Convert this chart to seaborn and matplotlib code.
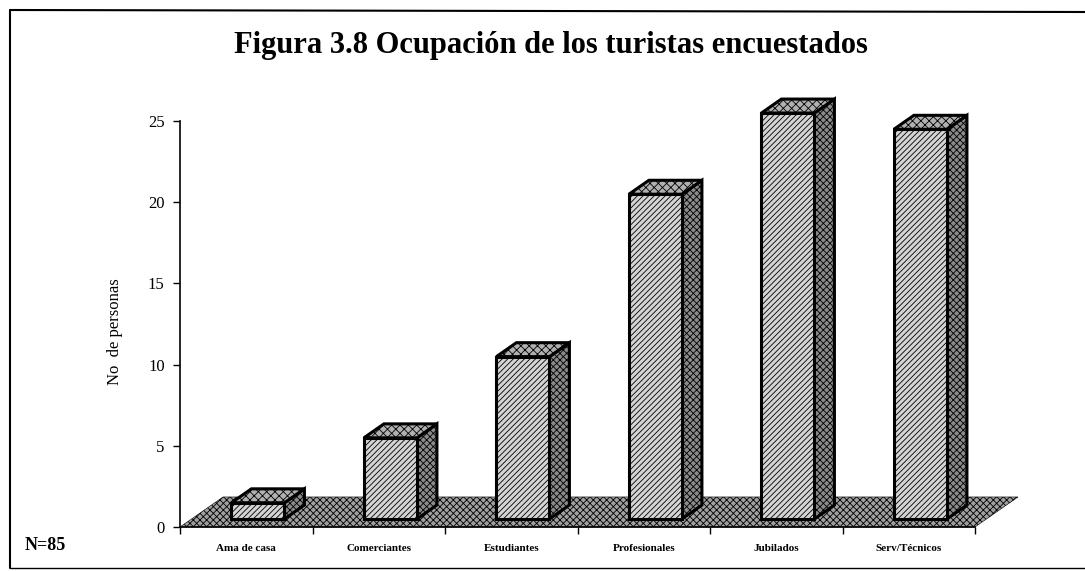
#!/usr/bin/python3

import seaborn as sns
import matplotlib.pyplot as plt
from matplotlib.patches import Polygon
from matplotlib.lines import Line2D

categories = ['Ama de casa', 'Comerciantes', 'Estudiantes',
              'Profesionales', 'Jubilados', 'Serv/Técnicos']
values = [1, 5, 10, 20, 25, 24]
y_ticks = [0, 5, 10, 15, 20, 25]

# 3D look, in data units (x: category band, y: persons)
FLOOR_DX, FLOOR_DY = 0.325, 1.85
FRONT_DX, FRONT_DY = 0.088, 0.49
DEPTH_DX, DEPTH_DY = 0.151, 0.86


def main():
    sns.set_style('white')
    plt.rcParams['font.family'] = ['Liberation Serif', 'DejaVu Serif']
    plt.rcParams['text.color'] = 'black'
    plt.rcParams['axes.labelcolor'] = 'black'
    plt.rcParams['xtick.color'] = 'black'
    plt.rcParams['ytick.color'] = 'black'
    plt.rcParams['hatch.linewidth'] = 0.6

    fig = plt.figure(figsize=(10.85, 5.71), dpi=100)
    ax = fig.add_axes([180 / 1085, 44 / 571, 795 / 1085, 406 / 571])

    sns.barplot(x=categories, y=values, width=0.4, color='#d4d4d4',
                edgecolor='black', linewidth=2.2, hatch='//////', ax=ax,
                zorder=4)

    n = len(categories)
    # floor
    floor = Polygon([(-0.5, 0), (n - 0.5, 0),
                     (n - 0.5 + FLOOR_DX, FLOOR_DY), (-0.5 + FLOOR_DX, FLOOR_DY)],
                    closed=True, facecolor='#a0a0a0', edgecolor='black',
                    hatch='xxxxx', lw=0.4, zorder=1, clip_on=False)
    ax.add_patch(floor)

    for p in list(ax.patches):
        if p is floor:
            continue
        p.set_x(p.get_x() + FRONT_DX)
        p.set_y(FRONT_DY)
        p.set_clip_on(False)
        x0, x1 = p.get_x(), p.get_x() + p.get_width()
        y0, y1 = p.get_y(), p.get_y() + p.get_height()
        side = Polygon([(x1, y0), (x1 + DEPTH_DX, y0 + DEPTH_DY),
                        (x1 + DEPTH_DX, y1 + DEPTH_DY), (x1, y1)],
                       closed=True, facecolor='#8a8a8a', edgecolor='black',
                       hatch='xxxxx', lw=2.2, zorder=3, clip_on=False)
        top = Polygon([(x0, y1), (x1, y1), (x1 + DEPTH_DX, y1 + DEPTH_DY),
                       (x0 + DEPTH_DX, y1 + DEPTH_DY)],
                      closed=True, facecolor='#b0b0b0', edgecolor='black',
                      hatch='xxxx', lw=2.2, zorder=3, clip_on=False)
        ax.add_patch(side)
        ax.add_patch(top)

    ax.set_xlim(-0.5, n - 0.5)
    ax.set_ylim(0, 25)
    ax.set_yticks(y_ticks)
    ax.set_yticklabels([str(t) for t in y_ticks], fontsize=12)
    ax.set_xticks(range(n))
    ax.set_xticklabels(categories, fontsize=8, fontweight='bold')
    ax.set_xticks([i - 0.5 for i in range(n + 1)], minor=True)
    ax.tick_params(axis='x', which='major', bottom=False, length=0, pad=12)
    ax.tick_params(axis='x', which='minor', bottom=True, length=5, width=1,
                   direction='out')
    ax.tick_params(axis='y', left=True, length=5, width=1, direction='out',
                   pad=6)
    ax.set_ylabel('No  de personas', fontsize=12)
    ax.yaxis.set_label_coords(-0.072, 0.48)
    ax.set_xlabel('')

    for s in ['top', 'right']:
        ax.spines[s].set_visible(False)
    for s in ['left', 'bottom']:
        ax.spines[s].set_color('black')
        ax.spines[s].set_linewidth(1.2)

    fig.text(0.508, 1 - 46 / 571, 'Figura 3.8 Ocupación de los turistas encuestados',
             ha='center', va='center', fontsize=22, fontweight='bold')
    fig.text(25 / 1085, 1 - 545 / 571, 'N=85', ha='left', va='center',
             fontsize=13, fontweight='bold')

    # scanned page frame
    fig.add_artist(Line2D([10 / 1085, 1], [1 - 10 / 571, 1 - 12 / 571],
                          transform=fig.transFigure, color='black', lw=1.5))
    fig.add_artist(Line2D([10 / 1085, 10 / 1085], [1 - 10 / 571, 1 - 568 / 571],
                          transform=fig.transFigure, color='black', lw=1.5))
    fig.add_artist(Line2D([10 / 1085, 1], [1 - 568 / 571, 1 - 568 / 571],
                          transform=fig.transFigure, color='black', lw=1.0))

    fig.savefig('out.png', dpi=100)


if __name__ == '__main__':
    main()
